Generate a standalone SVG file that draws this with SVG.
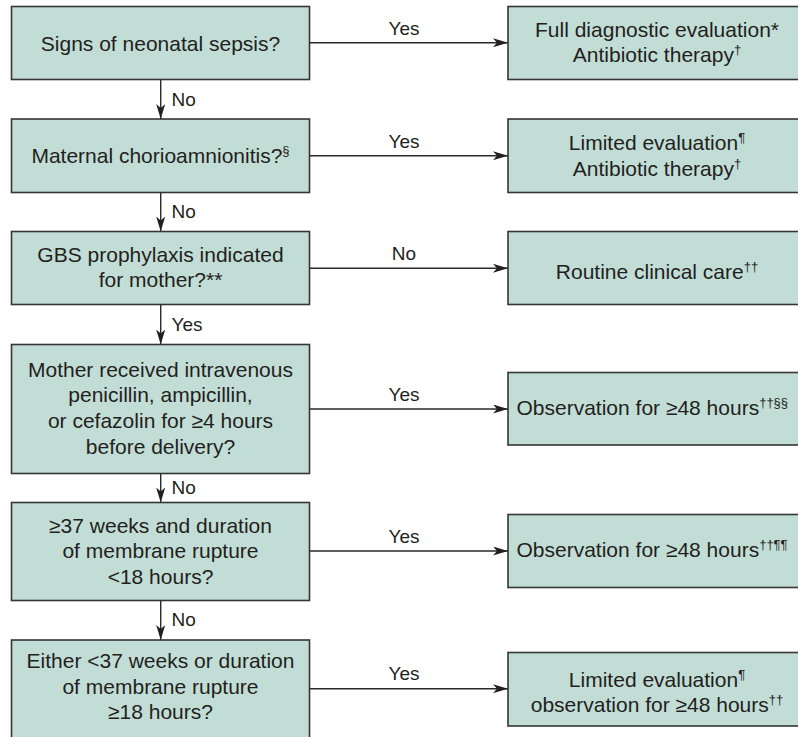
<svg xmlns="http://www.w3.org/2000/svg" width="798" height="737" viewBox="0 0 798 737">
<defs>
<style>
.box{fill:#c2ddd6;stroke:#353535;stroke-width:1.6}
.t{font-family:"Liberation Sans",Arial,Helvetica,sans-serif;font-size:21px;fill:#231f20;text-anchor:middle}
.ts{text-anchor:start}
.lbl{font-family:"Liberation Sans",Arial,Helvetica,sans-serif;font-size:19px;fill:#231f20}
.c{text-anchor:middle}
.sup{font-size:13px}
.ln{stroke:#2a2a2a;stroke-width:1.4;fill:none;marker-end:url(#ah)}
</style>
<marker id="ah" viewBox="0 0 15 9" refX="15" refY="4.5" markerWidth="15" markerHeight="9" markerUnits="userSpaceOnUse" orient="auto">
<path d="M0,0 L15,4.5 L0,9 L4,4.5 z" fill="#231f20"/>
</marker>
</defs>
<rect width="798" height="737" fill="#ffffff"/>

<g id="connectors">
<line class="ln" x1="309.5" y1="42.7" x2="508" y2="42.7"/>
<line class="ln" x1="309.5" y1="155.7" x2="508" y2="155.7"/>
<line class="ln" x1="309.5" y1="268.3" x2="508" y2="268.3"/>
<line class="ln" x1="309.5" y1="409" x2="508" y2="409"/>
<line class="ln" x1="309.5" y1="551" x2="508" y2="551"/>
<line class="ln" x1="309.5" y1="688.7" x2="508" y2="688.7"/>
<text class="lbl c" x="404" y="35">Yes</text>
<text class="lbl c" x="404" y="147.5">Yes</text>
<text class="lbl c" x="404" y="260">No</text>
<text class="lbl c" x="404" y="400.5">Yes</text>
<text class="lbl c" x="404" y="542.5">Yes</text>
<text class="lbl c" x="404" y="680">Yes</text>
<line class="ln" x1="160.7" y1="79.5" x2="160.7" y2="119"/>
<line class="ln" x1="160.7" y1="192.5" x2="160.7" y2="231.5"/>
<line class="ln" x1="160.7" y1="304.5" x2="160.7" y2="344.5"/>
<line class="ln" x1="160.7" y1="473.5" x2="160.7" y2="502.5"/>
<line class="ln" x1="160.7" y1="600.5" x2="160.7" y2="640"/>
<text class="lbl" x="171.5" y="105.5">No</text>
<text class="lbl" x="171.5" y="218">No</text>
<text class="lbl" x="171.5" y="330.5">Yes</text>
<text class="lbl" x="171.5" y="494.3">No</text>
<text class="lbl" x="171.5" y="625.7">No</text>
</g>

<g id="q1">
<rect class="box" x="11.5" y="6.5" width="298" height="73"/>
<text class="t" x="160.5" y="50.7">Signs of neonatal sepsis?</text>
</g>
<g id="q2">
<rect class="box" x="11.5" y="119" width="298" height="73.5"/>
<text class="t" x="160.5" y="163.3">Maternal chorioamnionitis?<tspan class="sup" dy="-8">§</tspan></text>
</g>
<g id="q3">
<rect class="box" x="11.5" y="231.5" width="298" height="73"/>
<text class="t" x="160.5" y="261.7">GBS prophylaxis indicated</text>
<text class="t" x="160.5" y="287.3">for mother?**</text>
</g>
<g id="q4">
<rect class="box" x="11.5" y="344.5" width="298" height="129"/>
<text class="t" x="160.5" y="376.7">Mother received intravenous</text>
<text class="t" x="160.5" y="402.3">penicillin, ampicillin,</text>
<text class="t" x="160.5" y="427.9">or cefazolin for ≥4 hours</text>
<text class="t" x="160.5" y="453.5">before delivery?</text>
</g>
<g id="q5">
<rect class="box" x="11.5" y="502.5" width="298" height="98"/>
<text class="t" x="160.5" y="532.7">≥37 weeks and duration</text>
<text class="t" x="160.5" y="558.3">of membrane rupture</text>
<text class="t" x="160.5" y="583.9">&lt;18 hours?</text>
</g>
<g id="q6">
<rect class="box" x="11.5" y="640" width="298" height="120"/>
<text class="t" x="160.5" y="668.3">Either &lt;37 weeks or duration</text>
<text class="t" x="160.5" y="693.6">of membrane rupture</text>
<text class="t" x="160.5" y="718.5">≥18 hours?</text>
</g>

<g id="r1">
<rect class="box" x="508" y="6.5" width="300" height="73"/>
<text class="t" x="657" y="36.7">Full diagnostic evaluation*</text>
<text class="t" x="657" y="62.3">Antibiotic therapy<tspan class="sup" dy="-8">†</tspan></text>
</g>
<g id="r2">
<rect class="box" x="508" y="119" width="300" height="73.5"/>
<text class="t" x="657" y="150.3">Limited evaluation<tspan class="sup" dy="-8">¶</tspan></text>
<text class="t" x="657" y="175.7">Antibiotic therapy<tspan class="sup" dy="-8">†</tspan></text>
</g>
<g id="r3">
<rect class="box" x="508" y="231.5" width="300" height="73"/>
<text class="t" x="657" y="278.5">Routine clinical care<tspan class="sup" dy="-8">††</tspan></text>
</g>
<g id="r4">
<rect class="box" x="508" y="372.5" width="300" height="72.5"/>
<text class="t ts" x="516.5" y="415">Observation for ≥48 hours<tspan class="sup" dy="-8">††§§</tspan></text>
</g>
<g id="r5">
<rect class="box" x="508" y="514.5" width="300" height="73"/>
<text class="t ts" x="516.5" y="557.3">Observation for ≥48 hours<tspan class="sup" dy="-8">††¶¶</tspan></text>
</g>
<g id="r6">
<rect class="box" x="508" y="652.5" width="300" height="73.5"/>
<text class="t" x="657" y="686.7">Limited evaluation<tspan class="sup" dy="-8">¶</tspan></text>
<text class="t" x="657" y="711.7">observation for ≥48 hours<tspan class="sup" dy="-8">††</tspan></text>
</g>
</svg>
